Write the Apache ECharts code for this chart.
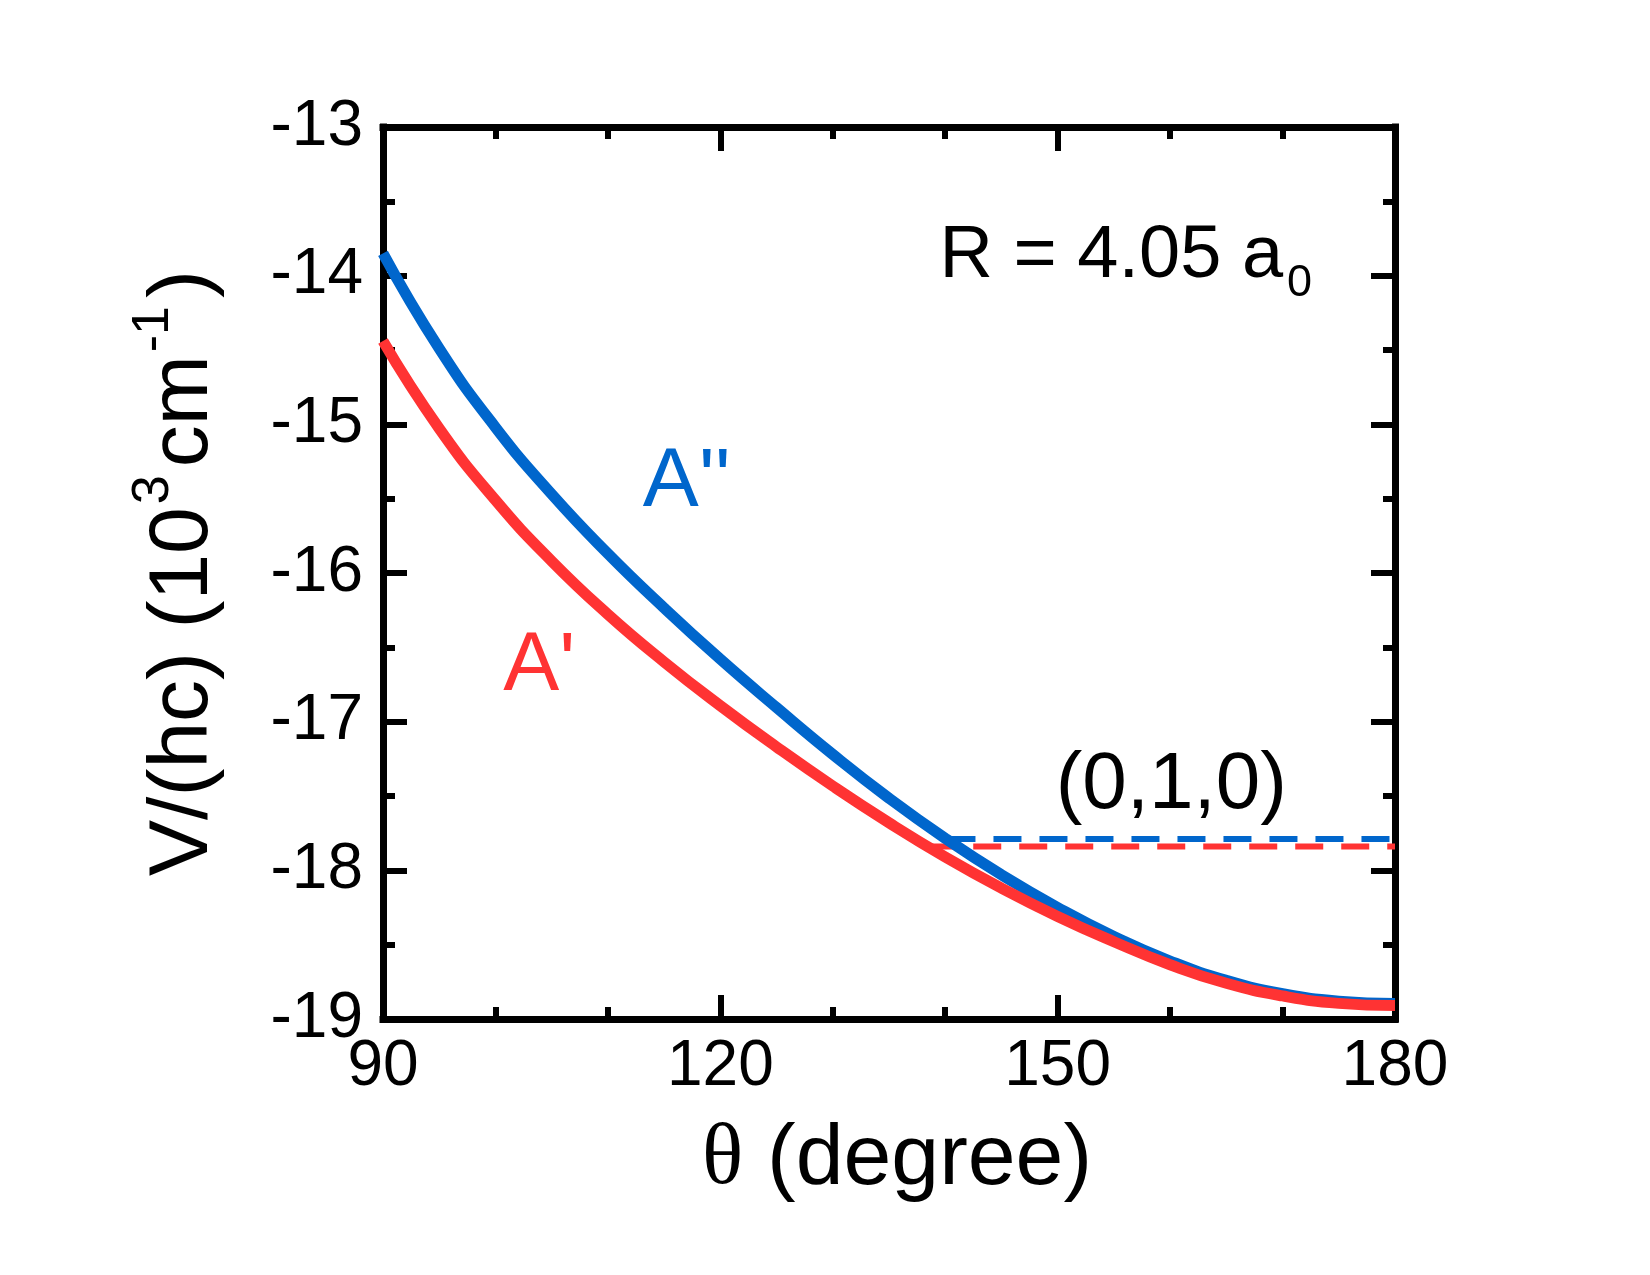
<!DOCTYPE html>
<html>
<head>
<meta charset="utf-8">
<script src="https://cdn.jsdelivr.net/npm/echarts@6/dist/echarts.min.js"></script>
<style>
html,body{margin:0;padding:0;background:#fff;}
#chart{width:1650px;height:1275px;}
</style>
</head>
<body>
<div id="chart"></div>
<script>
// ---- data ----
const theta = [90, 95, 100, 105, 110, 115, 120, 125, 130, 135, 140, 145, 150, 155, 160, 165, 170, 175, 180];
const vA2 = [-13.85, -14.49, -15.02, -15.47, -15.87, -16.235, -16.58, -16.905, -17.22, -17.515, -17.785, -18.03, -18.25, -18.445, -18.61, -18.74, -18.83, -18.88, -18.895]; // A''
const vA1 = [-14.44, -15.028, -15.51, -15.92, -16.278, -16.598, -16.893, -17.17, -17.433, -17.68, -17.91, -18.12, -18.31, -18.48, -18.635, -18.76, -18.845, -18.895, -18.91]; // A'
const dashA2 = [[140.2, -17.79], [180, -17.79]];
const dashA1 = [[138.4, -17.84], [180, -17.84]];
const xTicks = [90, 120, 150, 180];
const yTicks = [-19, -18, -17, -16, -15, -14, -13];

// annotation anchors (data coords of text cap-centre)
const annR = [139.5, -13.87];
const annRsub = [170.4, -14.056];
const ann010 = [160.1, -17.43];
const annA2 = [113.1, -15.395];
const annA1 = [100.7, -16.632];

const BLUE = '#0066CC';
const RED = '#FF3333';
const SANS = '"Liberation Sans", Arial, sans-serif';
const SERIF = '"Liberation Serif", "Times New Roman", serif';

const chart = echarts.init(document.getElementById('chart'), null, {renderer: 'canvas'});

function mkX(pos, showLabel) {
  return {
    type: 'value', min: xTicks[0], max: xTicks[xTicks.length - 1], interval: 30, position: pos,
    axisLine: {show: true, onZero: false, lineStyle: {color: '#000', width: 7, cap: 'square'}},
    axisTick: {show: true, inside: true, length: 24, lineStyle: {color: '#000', width: 6}},
    minorTick: {show: true, splitNumber: 3, length: 12, lineStyle: {color: '#000', width: 6}},
    splitLine: {show: false},
    axisLabel: {show: showLabel, fontSize: 64, color: '#000', fontFamily: SANS, margin: 16},
    name: showLabel ? '{t|θ} (degree)' : '',
    nameLocation: 'middle', nameGap: 98,
    nameTextStyle: {fontSize: 86, color: '#000', fontFamily: SANS, padding: [0, 0, 0, 16],
      rich: {t: {fontSize: 86, fontFamily: SERIF, color: '#000'}}}
  };
}
function mkY(pos, showLabel) {
  return {
    type: 'value', min: yTicks[0], max: yTicks[yTicks.length - 1], interval: 1, position: pos,
    axisLine: {show: true, onZero: false, lineStyle: {color: '#000', width: 7, cap: 'square'}},
    axisTick: {show: true, inside: true, length: 24, lineStyle: {color: '#000', width: 6}},
    minorTick: {show: true, splitNumber: 2, length: 12, lineStyle: {color: '#000', width: 6}},
    splitLine: {show: false},
    axisLabel: {show: showLabel, fontSize: 64, color: '#000', fontFamily: SANS, margin: 20},
    name: showLabel ? '{a|V/(hc) (10}{s|3}{a|cm}{s|-1}{a|)}' : '',
    nameLocation: 'middle', nameGap: 157, nameRotate: 90,
    nameTextStyle: {fontSize: 84, color: '#000', fontFamily: SANS,
      rich: {
        a: {fontSize: 84, fontFamily: SANS, color: '#000', verticalAlign: 'bottom'},
        s: {fontSize: 52, fontFamily: SANS, color: '#000', verticalAlign: 'top', padding: [0, 8, 46, 3]}
      }}
  };
}

const option = {
  backgroundColor: '#fff',
  animation: false,
  grid: {left: 383, top: 127, width: 1012, height: 892, containLabel: false},
  xAxis: [mkX('bottom', true), mkX('top', false)],
  yAxis: [mkY('left', true), mkY('right', false)],
  series: [
    {type: 'line', data: dashA2, symbol: 'none', lineStyle: {color: BLUE, width: 6, type: [28, 18]}, z: 2},
    {type: 'line', data: dashA1, symbol: 'none', lineStyle: {color: RED, width: 6, type: [28, 18]}, z: 2},
    {type: 'line', data: theta.map((t, i) => [t, vA2[i]]), symbol: 'none', smooth: 0.5,
      lineStyle: {color: BLUE, width: 11}, z: 3},
    {type: 'line', data: theta.map((t, i) => [t, vA1[i]]), symbol: 'none', smooth: 0.5,
      lineStyle: {color: RED, width: 11}, z: 4}
  ]
};
chart.setOption(option);

function px(p) { return chart.convertToPixel({gridIndex: 0}, p); }
function txt(p, text, size, color, align, family) {
  const q = px(p);
  return {type: 'text', x: q[0], y: q[1], z: 10,
    style: {text: text, font: size + 'px ' + (family || SANS), fill: color,
      textAlign: align, textVerticalAlign: 'middle'}};
}
chart.setOption({
  graphic: [
    txt(annR, 'R = 4.05 a', 74, '#000', 'left'),
    txt(annRsub, '0', 45, '#000', 'left'),
    txt(ann010, '(0,1,0)', 80, '#000', 'center'),
    txt(annA2, "A''", 84, BLUE, 'left'),
    txt(annA1, "A'", 84, RED, 'left')
  ]
});
</script>
</body>
</html>
